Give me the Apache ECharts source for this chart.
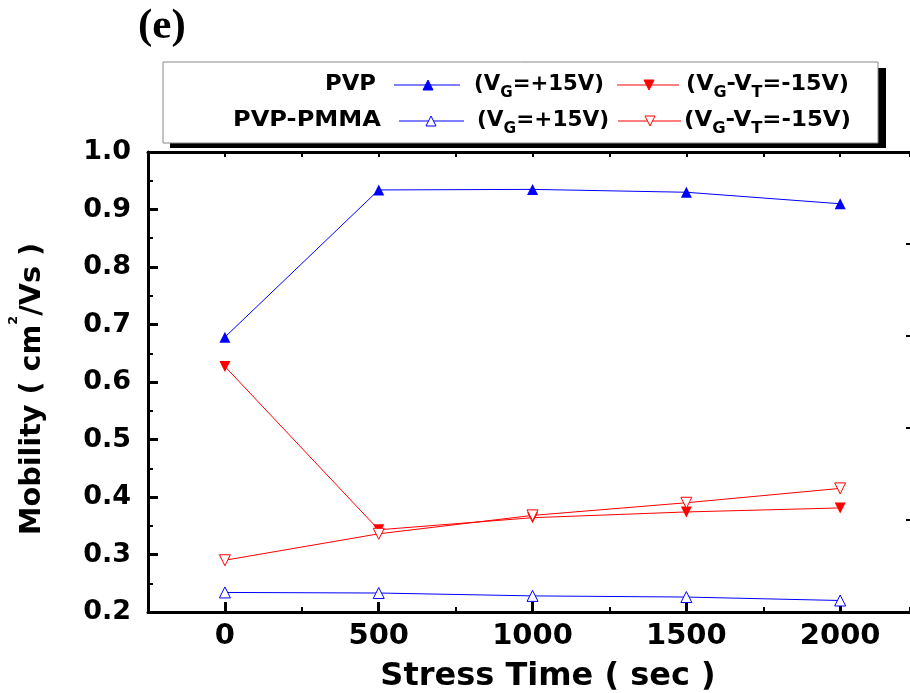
<!DOCTYPE html>
<html><head><meta charset="utf-8">
<script src="https://cdn.jsdelivr.net/npm/echarts@6/dist/echarts.min.js"></script>
<style>html,body{margin:0;padding:0;background:#fff}#c{width:910px;height:693px}</style>
</head><body><div id="c"></div>
<script>
// ---- data ----
const stressTime = [0, 500, 1000, 1500, 2000];
const pvpVG      = [0.678, 0.934, 0.935, 0.930, 0.910];
const pvpVGVT    = [0.627, 0.343, 0.364, 0.374, 0.381];
const pmmaVG     = [0.234, 0.233, 0.228, 0.226, 0.220];
const pmmaVGVT   = [0.290, 0.336, 0.368, 0.390, 0.415];
const xMajorTicks = [0, 500, 1000, 1500, 2000];
const seriesNames = ['PVP (VG=+15V)', 'PVP (VG-VT=-15V)', 'PVP-PMMA (VG=+15V)', 'PVP-PMMA (VG-VT=-15V)'];

const F = "'DejaVu Sans', sans-serif";
const BLUE = '#0000ff', RED = '#ff0000';
const pairs = (xs, ys) => xs.map((x, i) => [x, ys[i]]);

const chart = echarts.init(document.getElementById('c'), null, {renderer: 'canvas'});

// ---- text helpers (real text with sub/superscripts) ----
const mctx = document.createElement('canvas').getContext('2d');
function tw(str, size) { mctx.font = 'bold ' + size + "px 'DejaVu Sans'"; return mctx.measureText(str).width; }
// parts: [text, fontSize, yOffset]; laid out along local x, stretched to target width
function runText(x, y, parts, target, alignRight, z) {
  const nat = parts.reduce((s, p) => s + tw(p[0], p[1]), 0);
  const k = target ? target / nat : 1;
  let cx = alignRight ? x - nat * k : x;
  return parts.map(p => {
    const el = {type: 'text', x: cx, y: y + p[2], z: z || 20, scaleX: k, scaleY: 1,
      style: {text: p[0], fontFamily: F, fontWeight: 'bold', fontSize: p[1], fill: '#000', align: 'left', verticalAlign: 'middle'}};
    cx += tw(p[0], p[1]) * k;
    return el;
  });
}
const MAIN = 21, SUB = 15, SD = 8;
function legLine(x1, x2, y, color) {
  return {type: 'line', z: 20, shape: {x1: x1, y1: y, x2: x2, y2: y}, style: {stroke: color, lineWidth: 1}};
}
function tri(cx, cy, down, color, filled) {
  const h = 5;
  const pts = down ? [[cx - h, cy - h], [cx + h, cy - h], [cx, cy + h]] : [[cx, cy - h], [cx + h, cy + h], [cx - h, cy + h]];
  return {type: 'polygon', z: 21, shape: {points: pts},
    style: {fill: filled ? color : '#fff', stroke: color, lineWidth: 1}};
}
const VG = [['(V', MAIN, 0], ['G', SUB, SD], ['=+15V)', MAIN, 0]];
const VGVT = [['(V', MAIN, 0], ['G', SUB, SD], ['-V', MAIN, 0], ['T', SUB, SD], ['=-15V)', MAIN, 0]];
const r1 = 85, r2 = 121;

// y-axis title, rotated to read bottom-to-top
const yTitleParts = [['Mobility ( cm', 29, 0], ['2', 13, -18], ['/Vs )', 29, 0]];
const yTitle = {type: 'group', x: 32, y: 389, rotation: Math.PI / 2, z: 20,
  children: runText(-146, 0, yTitleParts, 292, false, 20)};

const graphic = [
  {type: 'rect', z: 10, shape: {x: 170, y: 68, width: 716, height: 80}, style: {fill: '#000'}},
  {type: 'rect', z: 11, shape: {x: 163, y: 62, width: 715, height: 81}, style: {fill: '#fff', stroke: '#888', lineWidth: 1}},
  ...runText(376, r1, [['PVP', MAIN, 0]], 51, true),
  legLine(394, 460, r1, BLUE), tri(428, r1, false, BLUE, true),
  ...runText(474, r1, VG, 130),
  legLine(617, 679, r1, RED), tri(649, r1, true, RED, true),
  ...runText(686, r1, VGVT, 163),
  ...runText(381, r2, [['PVP-PMMA', MAIN, 0]], 148, true),
  legLine(399, 464, r2, BLUE), tri(431, r2, false, BLUE, false),
  ...runText(477, r2, VG, 132),
  legLine(618, 681, r2, RED), tri(650, r2, true, RED, false),
  ...runText(684, r2, VGVT, 167),
  yTitle
];

function mkSeries(name, ys, color, filled, down) {
  return {
    name: name, type: 'line', xAxisIndex: 0, yAxisIndex: 0,
    data: pairs(stressTime, ys),
    symbol: 'triangle', symbolSize: 11, symbolRotate: down ? 180 : 0,
    showAllSymbol: true,
    lineStyle: {color: color, width: 1},
    itemStyle: filled ? {color: color, borderColor: color, borderWidth: 0} : {color: '#fff', borderColor: color, borderWidth: 1},
    emphasis: {disabled: true},
    animation: false
  };
}

const option = {
  backgroundColor: '#fff',
  animation: false,
  title: {text: '(e)', left: 133, top: 0,
    textStyle: {fontFamily: "'Liberation Serif', serif", fontWeight: 'bold', fontSize: 43, color: '#000'}},
  grid: {left: 148, top: 152, right: 0, bottom: 81, containLabel: false, outerBoundsMode: 'none'},
  graphic: graphic,
  xAxis: [
    {type: 'value', min: -250, max: 2227, position: 'bottom',
     axisLine: {show: true, onZero: false, lineStyle: {color: '#000', width: 3}},
     axisTick: {show: true, inside: true, length: 10, customValues: xMajorTicks, lineStyle: {color: '#000', width: 3}},
     axisLabel: {customValues: xMajorTicks, formatter: v => String(v), fontFamily: F, fontWeight: 'bold', fontSize: 29, color: '#000', margin: 10},
     splitLine: {show: false},
     name: 'Stress Time ( sec )', nameLocation: 'middle', nameGap: 49,
     nameTextStyle: {fontFamily: F, fontWeight: 'bold', fontSize: 32, color: '#000', padding: [0, 0, 0, 38]}},
    {type: 'value', min: -250, max: 2227, interval: 250, position: 'bottom',
     axisLine: {show: false, onZero: false}, axisTick: {show: true, inside: true, length: 5, lineStyle: {color: '#000', width: 2}},
     axisLabel: {show: false}, splitLine: {show: false}},
    {type: 'value', min: -250, max: 2227, interval: 250, position: 'top',
     axisLine: {show: true, onZero: false, lineStyle: {color: '#000', width: 3}},
     axisTick: {show: true, inside: true, length: 5, lineStyle: {color: '#000', width: 2}},
     axisLabel: {show: false}, splitLine: {show: false}}
  ],
  yAxis: [
    {type: 'value', min: 0.2, max: 1.0, interval: 0.1, position: 'left',
     axisLine: {show: true, onZero: false, lineStyle: {color: '#000', width: 3}},
     axisTick: {show: true, inside: true, length: 10, lineStyle: {color: '#000', width: 3}},
     minorTick: {show: true, splitNumber: 2, length: 5, lineStyle: {color: '#000', width: 2}},
     axisLabel: {formatter: v => v.toFixed(1), fontFamily: F, fontWeight: 'bold', fontSize: 27, color: '#000', margin: 17},
     splitLine: {show: false}},
    {type: 'value', min: 0, max: 5, interval: 1, position: 'right',
     axisLine: {show: false, onZero: false}, axisTick: {show: true, inside: true, length: 4, lineStyle: {color: '#000', width: 2}},
     axisLabel: {show: false}, splitLine: {show: false}}
  ],
  series: [
    mkSeries(seriesNames[0], pvpVG, BLUE, true, false),
    mkSeries(seriesNames[1], pvpVGVT, RED, true, true),
    mkSeries(seriesNames[2], pmmaVG, BLUE, false, false),
    mkSeries(seriesNames[3], pmmaVGVT, RED, false, true)
  ]
};
chart.setOption(option);
</script>
</body></html>
